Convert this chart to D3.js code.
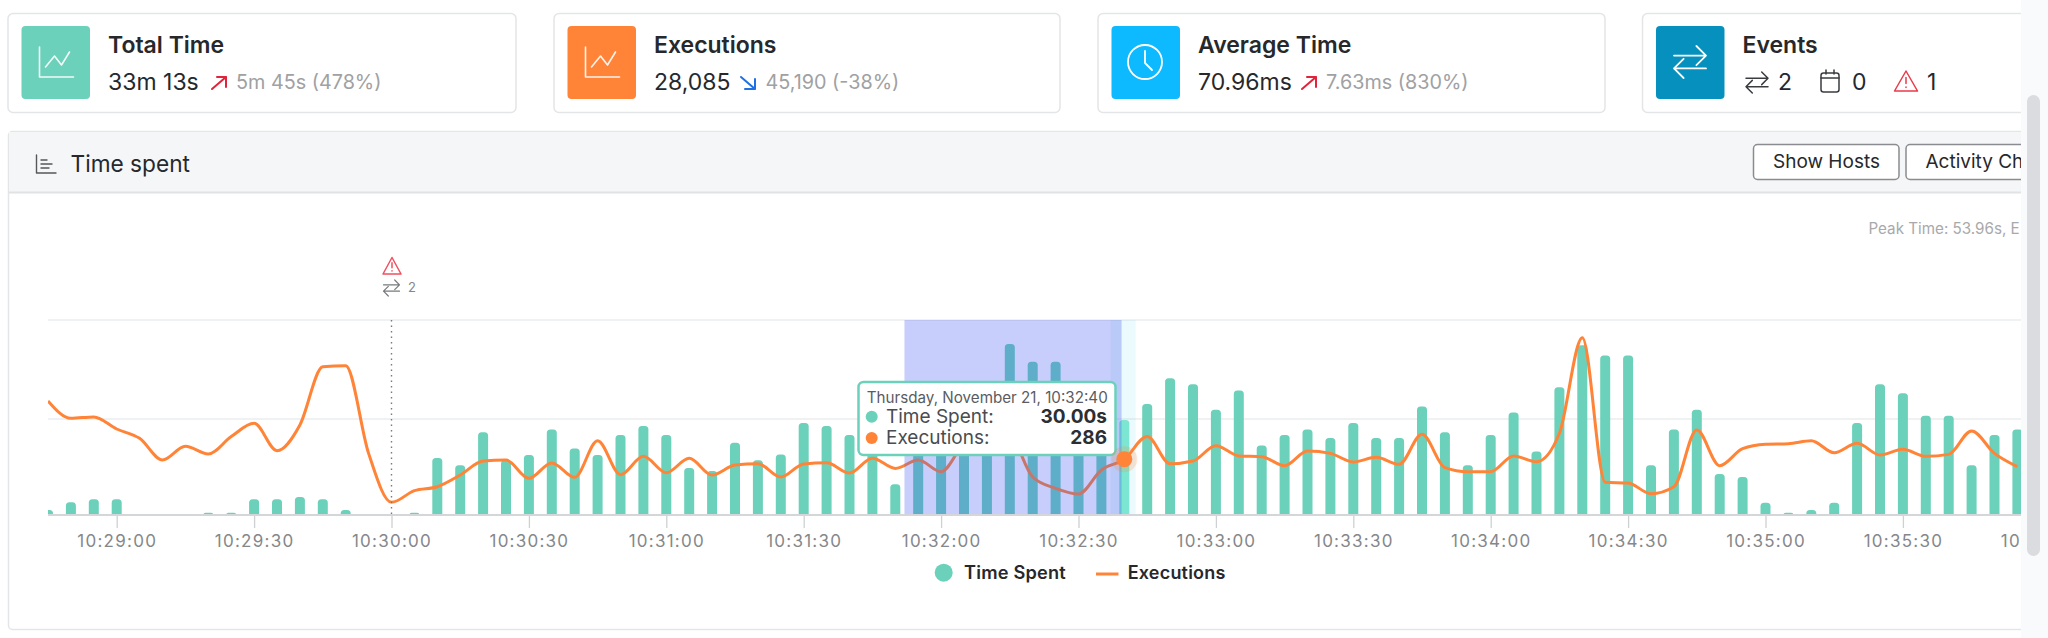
<!DOCTYPE html>
<html>
<head>
<meta charset="utf-8">
<script src="https://cdn.jsdelivr.net/npm/d3@7"></script>
<style>
  html, body { margin: 0; padding: 0; background: #fff; overflow: hidden; }
  text { font-family: Inter, "Noto Sans", sans-serif; }
</style>
</head>
<body>
<div id="chart"></div>
<script>
// one bar / line point every 5 seconds, from 10:28:45 to 10:35:55
const timeSpent = [
  1.6, 4.0, 5.0,
  5.0, 0, 0, 0, 0.7, 0.7, 5.0, 5.0, 5.7, 5.0, 1.6, 0,
  0, 0.7, 18.0, 15.7, 26.1, 17.3, 18.9, 27.0, 21.0, 18.9, 25.2, 28.1,
  25.2, 14.8, 13.9, 22.8, 17.3, 19.1, 29.0, 28.1, 25.2, 22, 9.7, 25,
  24, 27, 28, 53.96, 48.3, 48.3, 24, 23, 30.0, 35.0, 43.1, 41.2,
  33.2, 39.3, 21.9, 25.2, 27.0, 24.3, 29.0, 24.3, 24.3, 34.2, 26.1, 15.7,
  25.2, 32.3, 20.0, 40.3, 53.5, 50.3, 50.3, 15.7, 27.0, 33.2, 12.9, 12.0,
  3.9, 0.7, 1.6, 3.9, 29.0, 41.2, 38.4, 31.3, 31.3, 15.7, 25.2, 27.0
];
const executions = [
  585, 496, 503,
  441, 393, 282, 352, 313, 402, 470, 330, 462, 760, 766, 316,
  65, 125, 145, 205, 277, 282, 188, 267, 193, 381, 207, 301,
  217, 291, 205, 256, 263, 195, 262, 268, 215, 291, 239, 282,
  222, 369, 451, 415, 195, 137, 108, 231, 286, 402, 263, 277,
  355, 303, 299, 253, 328, 316, 272, 296, 260, 414, 243, 222,
  222, 303, 273, 419, 909, 168, 164, 109, 145, 436, 253, 340,
  363, 366, 381, 319, 368, 308, 337, 301, 311, 431, 316, 248
];
const tickLabels = ["10:29:00", "10:29:30", "10:30:00", "10:30:30", "10:31:00", "10:31:30", "10:32:00",
  "10:32:30", "10:33:00", "10:33:30", "10:34:00", "10:34:30", "10:35:00", "10:35:30", "10:36:00"];
const gridExecutions = [492, 1000];
const firstTime = "10:28:45", lastEdge = "10:36:00";
const selection = ["10:31:52", "10:32:39.4"];
const hoverBand = ["10:32:37", "10:32:42.5"];
const hoverTime = "10:32:40", eventTime = "10:30:00";

const teal = "#6CD1BA", orange = "#FF8438", grey = "#A0A1A3", dark = "#26282B";
const W = 2048, H = 638, contentRight = 2021;

const parse = s => d3.timeParse(s.includes(".") ? "%H:%M:%S.%L" : "%H:%M:%S")(s.includes(".") ? s + "00" : s);
const times = d3.timeSecond.range(parse(firstTime), parse(lastEdge), 5).slice(0, timeSpent.length);

const svg = d3.select("#chart").append("svg").attr("width", W).attr("height", H).style("display", "block");
const defs = svg.append("defs");
defs.append("clipPath").attr("id", "page").append("rect").attr("width", contentRight).attr("height", H);
defs.append("clipPath").attr("id", "plot").append("rect").attr("x", 48).attr("y", 300).attr("width", contentRight - 48).attr("height", 250);

const page = svg.append("g").attr("clip-path", "url(#page)");

function txt(g, x, y, s, size, color, weight, anchor) {
  return g.append("text").attr("x", x).attr("y", y).text(s)
    .attr("font-size", size).attr("fill", color)
    .attr("font-weight", weight || 400).attr("text-anchor", anchor || "start");
}
function stroke(g, d, color, w) {
  return g.append("path").attr("d", d).attr("fill", "none").attr("stroke", color)
    .attr("stroke-width", w || 1.5).attr("stroke-linecap", "round").attr("stroke-linejoin", "round");
}
function swapIcon(g, x, y, w, h, color, sw) {
  const a = h * 0.3;
  stroke(g, `M${x} ${y + a}H${x + w}M${x + w - a} ${y}L${x + w} ${y + a}L${x + w - a} ${y + 2 * a}`, color, sw);
  stroke(g, `M${x + w} ${y + h - a}H${x}M${x + a} ${y + h - 2 * a}L${x} ${y + h - a}L${x + a} ${y + h}`, color, sw);
}
function warnIcon(g, cx, top, w, h, color, sw) {
  stroke(g, `M${cx} ${top}L${cx + w / 2} ${top + h}H${cx - w / 2}Z`, color, sw);
  stroke(g, `M${cx} ${top + h * 0.32}V${top + h * 0.62}M${cx} ${top + h * 0.8}V${top + h * 0.82}`, color, sw);
}
function trendIcon(g, x) {
  stroke(g, `M${x + 18} 47V77H${x + 52}`, "#fff", 1.6).attr("opacity", 0.9);
  stroke(g, `M${x + 24} 67L${x + 33} 56L${x + 40} 65L${x + 48} 52`, "#fff", 1.6).attr("opacity", 0.9);
}

// stat cards
const cards = [
  { x: 8, w: 508, color: teal, title: "Total Time", value: "33m 13s", arrowX: 212, up: true, diff: "5m 45s (478%)", diffX: 236 },
  { x: 554, w: 506, color: orange, title: "Executions", value: "28,085", arrowX: 741, up: false, diff: "45,190 (-38%)", diffX: 765.5 },
  { x: 1098, w: 507, color: "#0DB9FF", title: "Average Time", value: "70.96ms", arrowX: 1302, up: true, diff: "7.63ms (830%)", diffX: 1326 },
  { x: 1642.5, w: 500, color: "#0590BD", title: "Events" }
];
cards.forEach(c => {
  const g = page.append("g");
  g.append("rect").attr("x", c.x).attr("y", 13.5).attr("width", c.w).attr("height", 99).attr("rx", 5)
    .attr("fill", "#fff").attr("stroke", "#E4E5E7").attr("stroke-width", 1.5);
  const ix = c.x + 13.5;
  g.append("rect").attr("x", ix).attr("y", 26).attr("width", 68.5).attr("height", 73).attr("rx", 4).attr("fill", c.color);
  txt(g, ix + 86.5, 53, c.title, 23, dark, 600);
  if (c.value) {
    txt(g, ix + 86.5, 90, c.value, 23, dark);
    const ax = c.arrowX, col = c.up ? "#E0243C" : "#1F6FE5";
    if (c.up) stroke(g, `M${ax} 89L${ax + 14} 77M${ax + 5} 77H${ax + 14}V87`, col, 2);
    else stroke(g, `M${ax} 77L${ax + 14} 89M${ax + 14} 79V89H${ax + 4}`, col, 2);
    txt(g, c.diffX, 89, c.diff, 19.8, grey);
  }
});
cards.slice(0, 2).forEach(c => trendIcon(page, c.x + 13.5));

// clock icon
page.append("circle").attr("cx", 1145).attr("cy", 62).attr("r", 17).attr("fill", "none").attr("stroke", "#fff").attr("stroke-width", 1.8);
stroke(page, "M1145 51V63L1152 70", "#fff", 1.8);
// events card icons
swapIcon(page, 1674, 46, 32, 32, "#fff", 1.8);
swapIcon(page, 1746, 72, 22, 21, "#3A3C40", 1.5);
txt(page, 1778, 90, "2", 23, dark);
page.append("rect").attr("x", 1821).attr("y", 73).attr("width", 18).attr("height", 19).attr("rx", 2.5)
  .attr("fill", "none").attr("stroke", "#3A3C40").attr("stroke-width", 1.5);
stroke(page, "M1821 78H1839M1826 70V74M1834 70V74", "#3A3C40", 1.5);
txt(page, 1852, 90, "0", 23, dark);
warnIcon(page, 1906, 71, 23, 20, "#EA3A4A", 1.5);
txt(page, 1927, 90, "1", 23, dark);

// panel and header
page.append("rect").attr("x", 8.5).attr("y", 131.5).attr("width", 2100).attr("height", 498)
  .attr("fill", "#fff").attr("stroke", "#E4E5E7").attr("stroke-width", 1.5).attr("rx", 4);
page.append("rect").attr("x", 9).attr("y", 132).attr("width", 2100).attr("height", 60).attr("fill", "#F5F6F7");
page.append("line").attr("x1", 9).attr("x2", contentRight).attr("y1", 192.5).attr("y2", 192.5)
  .attr("stroke", "#E1E2E4").attr("stroke-width", 2);
stroke(page, "M36.5 155V173H56M41 160H47M41 164H52M41 168H49", "#55575A", 1.4);
txt(page, 70.5, 172, "Time spent", 22.7, dark);

[[1753.5, 145.5, "Show Hosts"], [1906, 180, "Activity Ch"]].forEach(([x, w, label]) => {
  page.append("rect").attr("x", x).attr("y", 144.5).attr("width", w).attr("height", 35).attr("rx", 4)
    .attr("fill", "#fff").attr("stroke", "#8A8C8F").attr("stroke-width", 1.5);
  txt(page, x + 19.5, 168, label, 19, dark);
});
txt(page, 1868.5, 234, "Peak Time: 53.96s, E", 15.2, "#A8A9AB");

// scales
const x = d3.scaleTime().domain([parse(firstTime), parse(lastEdge)]).range([48, 2040.3]);
const yTime = d3.scaleLinear().domain([0, 61.5]).range([515, 320]);
const yExec = d3.scaleLinear().domain([0, 1000]).range([515, 320]);

const plot = page.append("g");

gridExecutions.forEach(v => {
  plot.append("line").attr("x1", 48).attr("x2", contentRight).attr("y1", yExec(v)).attr("y2", yExec(v))
    .attr("stroke", "#EBECEE").attr("stroke-width", 1.5);
});

// hover band sits under the bars
const overlay = page.append("g").attr("clip-path", "url(#plot)");
overlay.append("rect").attr("x", x(parse(hoverBand[0]))).attr("y", 320)
  .attr("width", x(parse(hoverBand[1]) ) - x(parse(hoverBand[0]))).attr("height", 195)
  .attr("fill", "rgba(100,215,240,0.13)");

function barPath(d, i) {
  const cx = x(times[i]), top = yTime(d), h = 515 - top, r = Math.min(3.5, h);
  if (h <= 0) return "";
  const p = d3.path();
  p.moveTo(cx - 5, 515);
  p.lineTo(cx - 5, top + r);
  p.quadraticCurveTo(cx - 5, top, cx - 5 + r, top);
  p.lineTo(cx + 5 - r, top);
  p.quadraticCurveTo(cx + 5, top, cx + 5, top + r);
  p.lineTo(cx + 5, 515);
  p.closePath();
  return p.toString();
}
const hoverIndex = times.findIndex(t => +t === +parse(hoverTime));
overlay.selectAll(".bar").data(timeSpent).enter().append("path")
  .attr("class", "bar")
  .attr("d", barPath)
  .attr("fill", (d, i) => i === hoverIndex ? "#7DE6D2" : teal);

const line = d3.line().x((d, i) => x(times[i])).y(d => yExec(d)).curve(d3.curveMonotoneX);
overlay.append("path").datum(executions).attr("d", line)
  .attr("fill", "none").attr("stroke", orange).attr("stroke-width", 3);

// brushed selection goes over bars and line
overlay.append("rect").attr("x", x(parse(selection[0]))).attr("y", 320)
  .attr("width", x(parse(selection[1])) - x(parse(selection[0]))).attr("height", 195)
  .attr("fill", "rgba(58,80,240,0.28)");

// x axis
const axis = d3.axisBottom(x).tickValues(tickLabels.map(parse)).tickFormat(d3.timeFormat("%H:%M:%S")).tickSize(13).tickPadding(5);
const axisG = page.append("g").attr("transform", "translate(0,515)").call(axis);
axisG.select(".domain").remove();
axisG.selectAll(".tick line").attr("stroke", "#CFD0D3").attr("stroke-width", 1.3);
axisG.selectAll(".tick text").attr("font-family", "Inter").attr("font-size", 17).attr("fill", "#85878A")
  .attr("letter-spacing", 1.25).attr("dy", "0.85em");
page.append("line").attr("x1", 48).attr("x2", contentRight).attr("y1", 515).attr("y2", 515)
  .attr("stroke", "#D5D6D9").attr("stroke-width", 2);

// event marker
const ex = x(parse(eventTime));
page.append("line").attr("x1", ex).attr("x2", ex).attr("y1", 320).attr("y2", 515)
  .attr("stroke", "#77797C").attr("stroke-width", 1.4).attr("stroke-dasharray", "1.5 4");
warnIcon(page, ex + 0.5, 257.5, 18, 16.5, "#F0505F", 1.5);
swapIcon(page, ex - 8, 280, 16, 16, "#77797C", 1.2);
txt(page, 408, 292, "2", 13, "#85878A");

// legend
page.append("circle").attr("cx", 943.7).attr("cy", 572.7).attr("r", 9).attr("fill", teal);
txt(page, 964, 579, "Time Spent", 18.2, dark, 600).attr("letter-spacing", 0.2);
page.append("line").attr("x1", 1096).attr("x2", 1118.5).attr("y1", 574).attr("y2", 574)
  .attr("stroke", orange).attr("stroke-width", 3);
txt(page, 1127.7, 579, "Executions", 18, dark, 600).attr("letter-spacing", 0.2);

// tooltip
const tip = page.append("g");
tip.append("rect").attr("x", 858.5).attr("y", 382).attr("width", 257).attr("height", 73).attr("rx", 5)
  .attr("fill", "#fff").attr("stroke", teal).attr("stroke-width", 2.5);
txt(tip, 866.7, 402.7, "Thursday, November 21, 10:32:40", 15.2, "#5A5C5F");
tip.append("circle").attr("cx", 871.7).attr("cy", 416.7).attr("r", 6).attr("fill", teal);
txt(tip, 886, 422.7, "Time Spent:", 19, "#4A4C4F");
txt(tip, 1107, 422.7, "30.00s", 19, "#2C2E31", 700, "end");
tip.append("circle").attr("cx", 871.7).attr("cy", 438).attr("r", 6).attr("fill", orange);
txt(tip, 886, 443.7, "Executions:", 19, "#4A4C4F");
txt(tip, 1107, 443.7, "286", 19, "#2C2E31", 700, "end");

// hovered point
const hx = x(times[hoverIndex]), hy = yExec(executions[hoverIndex]);
page.append("circle").attr("cx", hx).attr("cy", hy).attr("r", 13).attr("fill", orange).attr("opacity", 0.2);
page.append("circle").attr("cx", hx).attr("cy", hy).attr("r", 8).attr("fill", orange);

// scrollbar
svg.append("rect").attr("x", contentRight).attr("y", 0).attr("width", W - contentRight).attr("height", H).attr("fill", "#F9FAFB");
svg.append("rect").attr("x", 2027).attr("y", 95).attr("width", 13).attr("height", 461).attr("rx", 6.5).attr("fill", "#DADCE0");
</script>
</body>
</html>
